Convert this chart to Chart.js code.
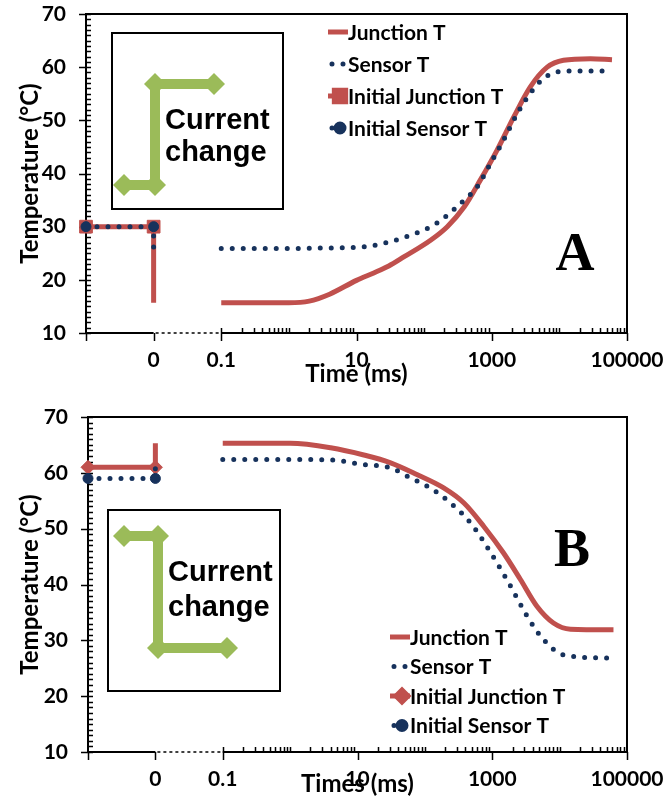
<!DOCTYPE html>
<html>
<head>
<meta charset="utf-8">
<script src="https://cdn.jsdelivr.net/npm/chart.js@4.4.1/dist/chart.umd.min.js"></script>
<style>
  html, body { margin: 0; padding: 0; background: #fff; }
  canvas { display: block; }
</style>
</head>
<body>
<canvas id="chartA" width="663" height="400"></canvas>
<canvas id="chartB" width="663" height="411"></canvas>
<script>
// the log axis is stretched two decades to the left for the state before the
// current change: 0.001 is the axis start, 0.01 is shown as "0", 0.01..0.1 is the break
const initTimes = [0.001, 0.01, 0.01];
const xTickValues = [0.01, 0.1, 10, 1000, 100000];
const xTickLabels = ['0', '0.1', '10', '1000', '100000'];

// panel A (current step up)
const initJunctionA = [30, 30, 15.7];
const initSensorA = [30, 30, 26.0];
const timeJunctionA = [0.1, 0.3, 1, 2, 4, 10, 18, 30, 50, 126, 220, 390, 680, 1200, 2130, 3720, 6600, 11500, 28800, 60000];
const junctionA = [15.7, 15.7, 15.7, 16.0, 17.3, 19.9, 21.3, 22.6, 24.3, 27.5, 30.0, 33.7, 38.8, 44.4, 50.7, 56.3, 60.0, 61.3, 61.6, 61.4];
const timeSensorA = [0.1, 1, 4, 13, 32, 63, 126, 195, 390, 610, 960, 1500, 2390, 3720, 5870, 9300, 23000, 53000];
const sensorA = [25.9, 25.9, 26.0, 26.2, 27.2, 28.4, 30.0, 31.6, 35.0, 37.5, 41.9, 46.3, 51.3, 55.1, 57.9, 59.1, 59.3, 59.3];

// panel B (current step down)
const initJunctionB = [61, 61, 65.3];
const initSensorB = [59, 59, 62.4];
const timeJunctionB = [0.1, 1, 4, 12.4, 31, 76, 190, 380, 750, 1480, 2620, 4600, 8100, 14500, 63000];
const junctionB = [65.3, 65.3, 64.5, 63.2, 61.8, 59.7, 57.3, 54.6, 50.4, 45.6, 40.9, 36.1, 33.1, 32.0, 31.9];
const timeSensorB = [0.1, 1, 4, 12, 31, 61, 120, 240, 480, 960, 1870, 3300, 5800, 11500, 56000];
const sensorB = [62.4, 62.4, 62.3, 61.5, 60.9, 59.1, 57.3, 54.6, 51.0, 45.6, 39.7, 34.3, 30.1, 27.4, 26.8];

const RED = '#C0504D';
const NAVY = '#17325C';
const GREEN = '#9BBB59';
const FONT = 'Lato, "Liberation Sans", sans-serif';

// layout and annotations of each panel
const deco = {
  chartA: {
    top: 14, yAxisW: 86, xAxisH: 67, xTickPad: 15, xTitlePad: 11, xTitle: 'Time (ms)',
    legend: { x: 328, y: 32, row: 32 },
    box: [112, 33, 171, 176],
    arrow: [[124, 185], [155, 185], [155, 84], [214, 84]],
    text: [165, 121, 153],
    letter: ['A', 575, 256]
  },
  chartB: {
    top: 17, yAxisW: 88, xAxisH: 59, xTickPad: 15, xTitlePad: 12, xTitle: 'Times (ms)',
    legend: { x: 390, y: 237, row: 29.5 },
    box: [108, 110, 172, 181],
    arrow: [[124, 136], [158, 136], [158, 248], [227, 248]],
    text: [168, 173, 208],
    letter: ['B', 572, 152]
  }
};

function toPoints(xs, ys) {
  return xs.map((t, i) => ({ x: t, y: ys[i] }));
}

function makeDatasets(tj, j, ts, s, ij, is, initStyle, initR) {
  return [
    { label: 'Junction T', data: toPoints(tj, j), borderColor: RED, borderWidth: 5,
      pointRadius: 0, cubicInterpolationMode: 'monotone', order: 3 },
    { label: 'Sensor T', data: toPoints(ts, s), borderColor: NAVY, borderWidth: 5,
      borderDash: [0, 11], borderCapStyle: 'round', pointRadius: 0,
      cubicInterpolationMode: 'monotone', order: 1 },
    { label: 'Initial Junction T', data: toPoints(initTimes, ij), borderColor: RED, borderWidth: 5,
      pointStyle: initStyle, pointRadius: [initR, initR, 0], pointBackgroundColor: RED,
      pointBorderColor: RED, pointBorderWidth: 1, tension: 0, order: 2 },
    { label: 'Initial Sensor T', data: toPoints(initTimes, is), borderColor: NAVY, borderWidth: 5,
      borderDash: [0, 11], borderCapStyle: 'round', pointStyle: 'circle', pointRadius: [5, 5, 0],
      pointBackgroundColor: NAVY, pointBorderColor: NAVY, pointBorderWidth: 1, tension: 0, order: 0 }
  ];
}

function diamond(ctx, x, y, r) {
  ctx.beginPath();
  ctx.moveTo(x - r, y); ctx.lineTo(x, y - r); ctx.lineTo(x + r, y); ctx.lineTo(x, y + r);
  ctx.closePath();
  ctx.fill();
}

// no extra room for edge labels, the chart area is set by the panel layout
function noPadding(s) {
  s.paddingLeft = 0; s.paddingRight = 0; s.paddingTop = 0; s.paddingBottom = 0;
}

const axisPlugin = {
  id: 'axisDeco',
  beforeDatasetsDraw(chart) {
    const { ctx, chartArea: a, scales: { x, y } } = chart;
    ctx.save();
    ctx.strokeStyle = '#000';
    ctx.lineWidth = 1.5;
    ctx.beginPath();
    for (let v = 10; v <= 70; v++) {
      const py = Math.round(y.getPixelForValue(v)) + 0.5;
      ctx.moveTo(v % 10 === 0 ? a.left - 7 : a.left, py);
      ctx.lineTo(a.left + 5, py);
    }
    [0.001, 0.01, 0.1, 10, 1000, 100000].forEach(v => {
      const px = Math.round(x.getPixelForValue(v)) + 0.5;
      ctx.moveTo(px, a.bottom); ctx.lineTo(px, a.bottom + 8);
    });
    for (let d = -1; d <= 4; d++) {
      for (let m = 1; m <= 9; m++) {
        const v = m * Math.pow(10, d);
        if (m === 1 && d % 2 === 1) continue;
        const px = Math.round(x.getPixelForValue(v)) + 0.5;
        ctx.moveTo(px, a.bottom); ctx.lineTo(px, a.bottom - 5);
      }
    }
    ctx.stroke();
    // axis break
    const xb0 = x.getPixelForValue(0.01), xb1 = x.getPixelForValue(0.1);
    ctx.setLineDash([3, 3]);
    ctx.beginPath();
    ctx.moveTo(xb0 + 2, a.bottom); ctx.lineTo(xb1 - 2, a.bottom);
    ctx.stroke();
    ctx.setLineDash([]);
    // frame
    ctx.lineWidth = 2;
    ctx.beginPath();
    ctx.moveTo(a.left, a.bottom); ctx.lineTo(a.left, a.top);
    ctx.lineTo(a.right, a.top); ctx.lineTo(a.right, a.bottom);
    ctx.moveTo(a.left, a.bottom); ctx.lineTo(xb0, a.bottom);
    ctx.moveTo(xb1, a.bottom); ctx.lineTo(a.right, a.bottom);
    ctx.stroke();
    ctx.restore();
  },
  afterDraw(chart) {
    const d = deco[chart.canvas.id];
    const { ctx } = chart;
    ctx.save();
    // legend inside the plot
    ctx.font = 'bold 21px ' + FONT;
    ctx.textBaseline = 'middle';
    ctx.textAlign = 'left';
    chart.data.datasets.forEach((ds, i) => {
      const yy = d.legend.y + i * d.legend.row;
      ctx.strokeStyle = ds.borderColor;
      ctx.fillStyle = ds.borderColor;
      ctx.lineWidth = ds.borderWidth;
      ctx.lineCap = ds.borderCapStyle || 'butt';
      ctx.setLineDash(ds.borderDash || []);
      ctx.beginPath();
      ctx.moveTo(d.legend.x + (ds.borderDash ? 4 : 0), yy);
      ctx.lineTo(d.legend.x + 20, yy);
      ctx.stroke();
      ctx.setLineDash([]);
      if (ds.pointStyle) {
        Chart.helpers.drawPoint(ctx, { pointStyle: ds.pointStyle, rotation: 0, radius: ds.pointRadius[0] - 1, borderWidth: 1 }, d.legend.x + 12, yy);
      }
      ctx.fillStyle = '#000';
      ctx.fillText(ds.label, d.legend.x + 20, yy + 1);
    });
    // "Current change" inset
    const [bx, by, bw, bh] = d.box;
    ctx.strokeStyle = '#000';
    ctx.lineWidth = 2;
    ctx.lineCap = 'butt';
    ctx.strokeRect(bx, by, bw, bh);
    ctx.strokeStyle = GREEN;
    ctx.fillStyle = GREEN;
    ctx.lineWidth = 10;
    ctx.beginPath();
    d.arrow.forEach(([px, py], i) => (i ? ctx.lineTo(px, py) : ctx.moveTo(px, py)));
    ctx.stroke();
    d.arrow.forEach(([px, py]) => diamond(ctx, px, py, 11));
    ctx.fillStyle = '#000';
    ctx.font = 'bold 29px "Liberation Sans", Arial, sans-serif';
    ctx.fillText('Current', d.text[0], d.text[1]);
    ctx.fillText('change', d.text[0], d.text[2]);
    ctx.font = 'bold 54px "Liberation Serif", "Times New Roman", serif';
    ctx.textAlign = 'center';
    ctx.fillText(d.letter[0], d.letter[1], d.letter[2]);
    ctx.restore();
  }
};

function makeChart(id, datasets) {
  const d = deco[id];
  return new Chart(document.getElementById(id), {
    type: 'line',
    data: { datasets: datasets },
    options: {
      responsive: false,
      animation: false,
      events: [],
      clip: false,
      layout: { padding: { top: d.top, right: 36, left: 0, bottom: 0 } },
      plugins: { legend: { display: false }, tooltip: { enabled: false } },
      scales: {
        x: {
          type: 'logarithmic',
          min: 0.001,
          max: 100000,
          grid: { display: false, drawTicks: false },
          border: { display: false },
          afterBuildTicks: s => { s.ticks = xTickValues.map(v => ({ value: v })); },
          afterFit: s => { s.height = d.xAxisH; noPadding(s); },
          ticks: {
            autoSkip: false, maxRotation: 0, padding: d.xTickPad, color: '#000',
            font: { family: FONT, size: 21, weight: 'bold' },
            callback: v => { const k = xTickValues.indexOf(v); return k < 0 ? '' : xTickLabels[k]; }
          },
          title: {
            display: true, text: d.xTitle, color: '#000',
            font: { family: FONT, size: 24, weight: 'bold' },
            padding: { top: 0, bottom: d.xTitlePad }
          }
        },
        y: {
          min: 10,
          max: 70,
          grid: { display: false, drawTicks: false },
          border: { display: false },
          afterFit: s => { s.width = d.yAxisW; noPadding(s); },
          ticks: {
            stepSize: 10, padding: 20, color: '#000',
            font: { family: FONT, size: 21, weight: 'bold' }
          },
          title: {
            display: true, text: 'Temperature (°C)', color: '#000',
            font: { family: FONT, size: 24, weight: 'bold' },
            padding: { top: 16, bottom: 0 }
          }
        }
      }
    },
    plugins: [axisPlugin]
  });
}

makeChart('chartA', makeDatasets(timeJunctionA, junctionA, timeSensorA, sensorA, initJunctionA, initSensorA, 'rect', 9));
makeChart('chartB', makeDatasets(timeJunctionB, junctionB, timeSensorB, sensorB, initJunctionB, initSensorB, 'rectRot', 7));
</script>
</body>
</html>
